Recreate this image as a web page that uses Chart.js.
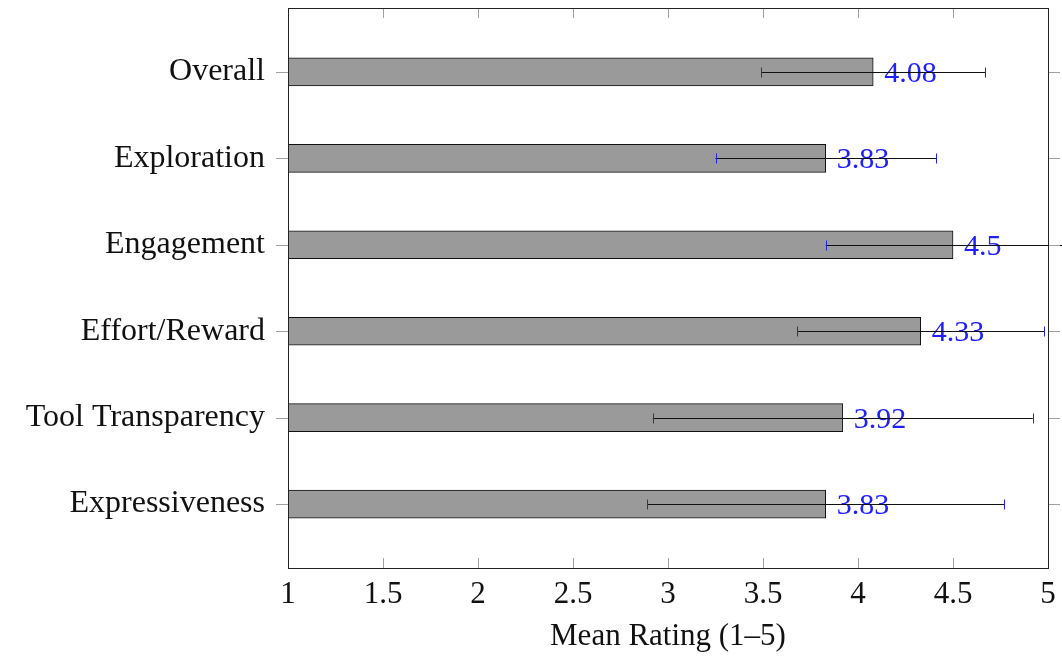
<!DOCTYPE html>
<html>
<head>
<meta charset="utf-8">
<script src="https://cdn.jsdelivr.net/npm/chart.js@4.4.1/dist/chart.umd.min.js"></script>
<style>
  body { margin: 0; background: #fff; }
  #wrap { width: 1062px; height: 657px; }
</style>
</head>
<body>
<div id="wrap"><canvas id="chart" width="1062" height="657"></canvas></div>
<script>
// top to bottom, as in the figure
const categories = ["Overall", "Exploration", "Engagement", "Effort/Reward", "Tool Transparency", "Expressiveness"];
const means = [4.08, 3.83, 4.5, 4.33, 3.92, 3.83];
const errors = [0.59, 0.58, 0.67, 0.65, 1.0, 0.94];
const xTicks = [1, 1.5, 2, 2.5, 3, 3.5, 4, 4.5, 5];

const n = categories.length;
const FONT = "'Liberation Serif', 'Times New Roman', serif";
const TICK_GRAY = "#a0a0a0";

// pgfplots-style frame with tick marks
const framePlugin = {
  id: "frame",
  afterDraw(chart) {
    const { ctx, chartArea: a, scales } = chart;
    ctx.save();
    ctx.lineWidth = 1;
    ctx.strokeStyle = TICK_GRAY;
    ctx.beginPath();
    xTicks.forEach((t) => {
      const px = Math.round(scales.x.getPixelForValue(t)) + 0.5;
      ctx.moveTo(px, a.bottom); ctx.lineTo(px, a.bottom - 10);
      ctx.moveTo(px, a.top); ctx.lineTo(px, a.top + 10);
    });
    for (let i = 0; i < n; i++) {
      const py = Math.round(scales.y.getPixelForValue(i)) + 0.5;
      ctx.moveTo(a.left - 12, py); ctx.lineTo(a.left, py);
      ctx.moveTo(a.right, py); ctx.lineTo(a.right + 12, py);
    }
    ctx.stroke();
    ctx.strokeStyle = "#222";
    ctx.strokeRect(Math.round(a.left) + 0.5, Math.round(a.top) + 0.5,
      Math.round(a.right - a.left), Math.round(a.bottom - a.top));
    ctx.restore();
  },
};

// error bars + value labels
const errorPlugin = {
  id: "errorbars",
  afterDatasetsDraw(chart) {
    const { ctx, scales } = chart;
    ctx.save();
    means.forEach((m, i) => {
      const y = Math.round(scales.y.getPixelForValue(n - 1 - i)) + 0.5;
      const xl = scales.x.getPixelForValue(m - errors[i]);
      const xr = scales.x.getPixelForValue(m + errors[i]);
      const xb = scales.x.getPixelForValue(m);

      ctx.fillStyle = "#2020ff";
      ctx.font = "30px " + FONT;
      ctx.textBaseline = "middle";
      ctx.textAlign = "left";
      ctx.fillText(String(m), xb + 11, y + 2);

      ctx.lineWidth = 1;
      ctx.strokeStyle = "#111";
      ctx.beginPath();
      ctx.moveTo(xl, y); ctx.lineTo(xr, y);
      ctx.stroke();
      ctx.strokeStyle = "#2020ff";
      ctx.beginPath();
      ctx.moveTo(Math.round(xl) + 0.5, y - 5); ctx.lineTo(Math.round(xl) + 0.5, y + 5);
      ctx.moveTo(Math.round(xr) + 0.5, y - 5); ctx.lineTo(Math.round(xr) + 0.5, y + 5);
      ctx.stroke();
    });
    ctx.restore();
  },
};

const chart = new Chart(document.getElementById("chart"), {
  type: "bar",
  data: {
    datasets: [
      {
        data: means.map((v, i) => ({ x: v, y: n - 1 - i })),
        backgroundColor: "#9a9a9a",
        borderColor: "#111",
        borderWidth: 1,
        borderSkipped: false,
        barThickness: 28,
      },
    ],
  },
  plugins: [errorPlugin, framePlugin],
  options: {
    responsive: false,
    animation: false,
    indexAxis: "y",
    layout: { padding: { top: 8, right: 14, left: 0, bottom: 0 } },
    plugins: { legend: { display: false }, tooltip: { enabled: false } },
    scales: {
      x: {
        type: "linear",
        min: 1,
        max: 5,
        afterBuildTicks: (scale) => { scale.ticks = xTicks.map((v) => ({ value: v })); },
        afterFit: (scale) => {
          scale.height = 89;
          scale.paddingLeft = 0;
          scale.paddingRight = 0;
        },
        grid: { display: false },
        border: { display: false },
        ticks: {
          color: "#111",
          font: { family: FONT, size: 31 },
          padding: 0,
          maxRotation: 0,
          callback: (v) => String(v),
        },
        title: {
          display: true,
          text: "Mean Rating (1–5)",
          color: "#111",
          font: { family: FONT, size: 31 },
          padding: { top: 4, bottom: 2 },
        },
      },
      y: {
        type: "linear",
        offset: false,
        min: -0.74,
        max: 5.74,
        afterBuildTicks: (scale) => {
          scale.ticks = categories.map((c, i) => ({ value: i }));
        },
        afterFit: (scale) => {
          scale.width = 288;
          scale.paddingTop = 0;
          scale.paddingBottom = 0;
        },
        grid: { display: false },
        border: { display: false },
        ticks: {
          color: "#111",
          font: { family: FONT, size: 32 },
          padding: 15,
          callback: (v) => categories[n - 1 - v],
        },
      },
    },
  },
});
</script>
</body>
</html>
